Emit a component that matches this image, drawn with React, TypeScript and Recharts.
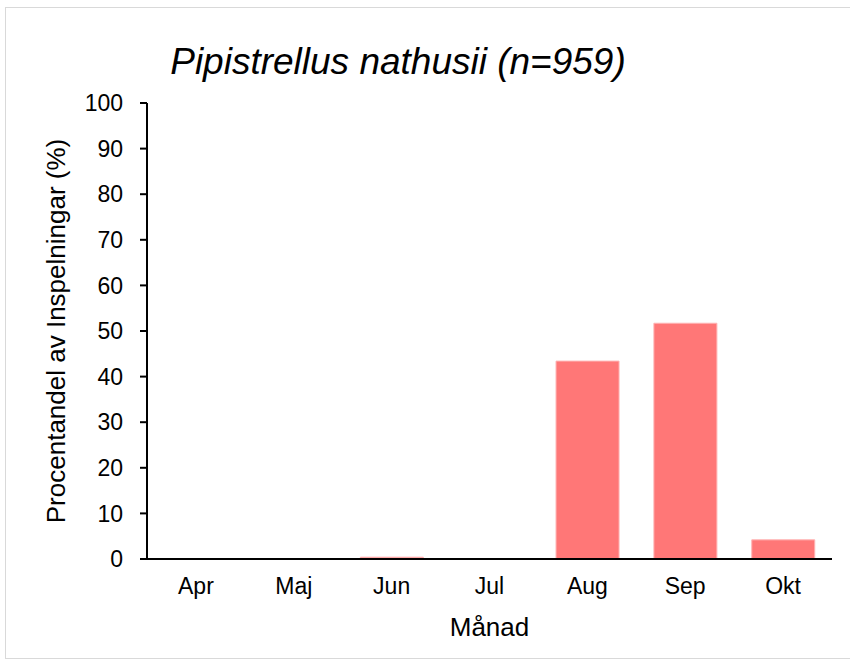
import { Bar, BarChart, Label, XAxis, YAxis } from "recharts";

const months = ["Apr", "Maj", "Jun", "Jul", "Aug", "Sep", "Okt"];
const percent = [0, 0.1, 0.4, 0, 43.4, 51.7, 4.2];
const yTicks = [0, 10, 20, 30, 40, 50, 60, 70, 80, 90, 100];

const title = "Pipistrellus nathusii (n=959)";
const xTitle = "Månad";
const yTitle = "Procentandel av Inspelningar (%)";

const chartData = months.map((month, i) => ({ month, value: percent[i] }));

const font = "'Liberation Sans', Arial, sans-serif";

export default function App() {
    return (
        <div style={{ position: "absolute", left: 0, top: 0, width: 850, height: 666, background: "#fff", fontFamily: font }}>
            <div
                style={{
                    position: "absolute",
                    left: 5,
                    top: 7,
                    width: 850,
                    height: 652,
                    border: "1px solid #d9d9d9",
                    boxSizing: "border-box",
                }}
            />
            <div
                style={{
                    position: "absolute",
                    left: 0,
                    width: 796,
                    top: 40,
                    textAlign: "center",
                    fontSize: 37,
                    fontStyle: "italic",
                    color: "#000",
                    lineHeight: "44px",
                }}
            >
                {title}
            </div>
            <BarChart
                width={850}
                height={666}
                data={chartData}
                margin={{ top: 103, right: 18, left: 0, bottom: 0 }}
                barCategoryGap="18%"
                style={{ position: "absolute", left: 0, top: 0 }}
            >
                <XAxis
                    dataKey="month"
                    height={107}
                    tickLine={false}
                    tickSize={0}
                    tickMargin={19}
                    axisLine={{ stroke: "#000", strokeWidth: 2 }}
                    tick={{ fill: "#000", fontSize: 23, fontFamily: font }}
                    interval={0}
                >
                    <Label
                        value={xTitle}
                        position="insideBottom"
                        offset={30}
                        style={{ fill: "#000", fontSize: 26, fontFamily: font }}
                    />
                </XAxis>
                <YAxis
                    width={147}
                    domain={[0, 100]}
                    ticks={yTicks}
                    interval={0}
                    tickSize={7}
                    tickMargin={17}
                    axisLine={{ stroke: "#000", strokeWidth: 2 }}
                    tickLine={{ stroke: "#000", strokeWidth: 2 }}
                    tick={{ fill: "#000", fontSize: 23, fontFamily: font }}
                >
                    <Label
                        value={yTitle}
                        angle={-90}
                        position="insideLeft"
                        offset={56}
                        style={{ fill: "#000", fontSize: 26, fontFamily: font, textAnchor: "middle" }}
                    />
                </YAxis>
                <Bar dataKey="value" fill="#ff7777" stroke="#ffb3b3" strokeWidth={1} isAnimationActive={false} />
            </BarChart>
        </div>
    );
}
